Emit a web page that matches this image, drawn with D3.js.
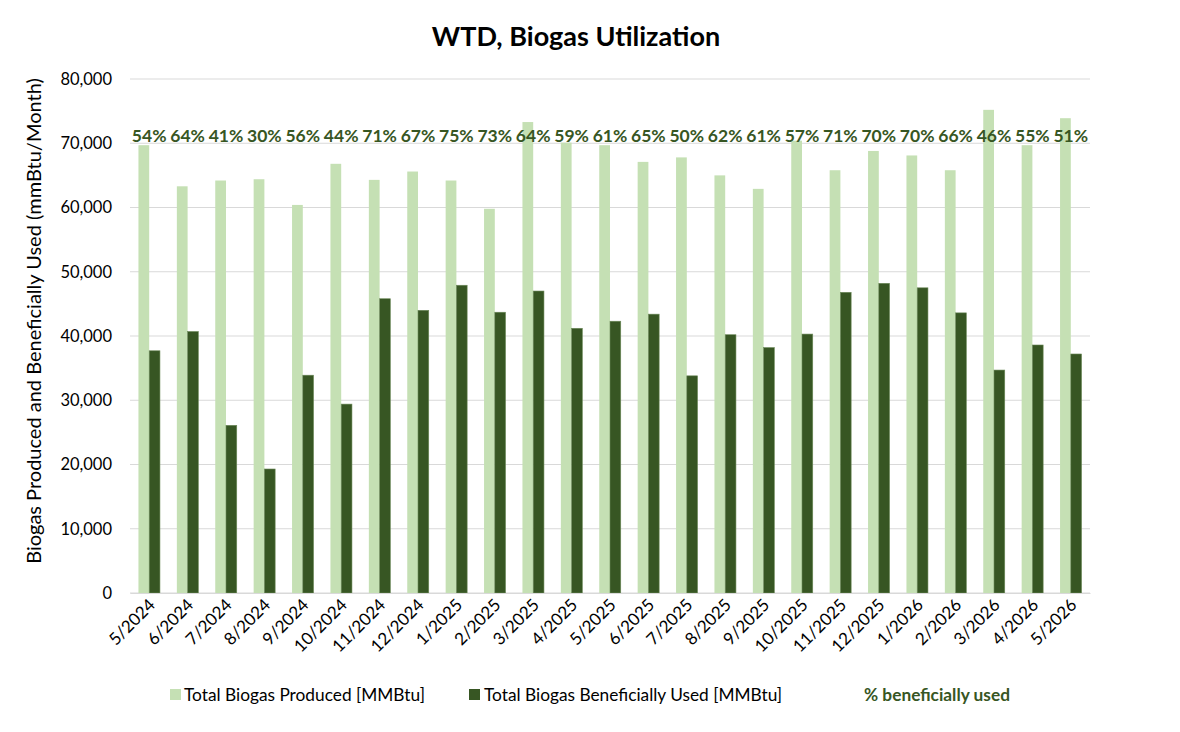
<!DOCTYPE html>
<html>
<head>
<meta charset="utf-8">
<script src="https://cdn.jsdelivr.net/npm/d3@7"></script>
<style>
  body { margin: 0; background: #fff; }
  svg { font-family: Lato, "Open Sans", sans-serif; }
</style>
</head>
<body>
<svg id="chart"></svg>
<script>
const months = ["5/2024", "6/2024", "7/2024", "8/2024", "9/2024", "10/2024", "11/2024", "12/2024",
  "1/2025", "2/2025", "3/2025", "4/2025", "5/2025", "6/2025", "7/2025", "8/2025", "9/2025",
  "10/2025", "11/2025", "12/2025", "1/2026", "2/2026", "3/2026", "4/2026", "5/2026"];
const produced = [69700, 63300, 64200, 64400, 60400, 66800, 64300, 65600, 64200, 59800, 73300, 70100,
  69700, 67100, 67800, 65000, 62900, 70400, 65800, 68800, 68100, 65800, 75200, 69700, 73900];
const used = [37700, 40700, 26100, 19300, 33900, 29400, 45800, 44000, 47900, 43700, 47000, 41200,
  42300, 43400, 33800, 40200, 38200, 40300, 46800, 48200, 47500, 43600, 34700, 38600, 37200];
const pctLabels = ["54%", "64%", "41%", "30%", "56%", "44%", "71%", "67%", "75%", "73%", "64%", "59%",
  "61%", "65%", "50%", "62%", "61%", "57%", "71%", "70%", "70%", "66%", "46%", "55%", "51%"];
const yTicks = [0, 10000, 20000, 30000, 40000, 50000, 60000, 70000, 80000];

const W = 1180, H = 732;
const margin = { top: 79, right: 90, bottom: 139, left: 130 };
const width = W - margin.left - margin.right;
const height = H - margin.top - margin.bottom;

const lightGreen = "#c5e0b4";
const darkGreen = "#375623";

const svg = d3.select("#chart").attr("width", W).attr("height", H);
const g = svg.append("g").attr("transform", `translate(${margin.left},${margin.top})`);

const x = d3.scaleBand().domain(months).range([0, width]).paddingInner(0.44).paddingOuter(0.22);
const xSub = d3.scaleBand().domain(["produced", "used"]).range([0, x.bandwidth()]);
const y = d3.scaleLinear().domain([0, 80000]).range([height, 0]);

// gridlines
g.append("g")
  .selectAll("line")
  .data(yTicks)
  .join("line")
  .attr("x1", 0).attr("x2", width)
  .attr("y1", d => y(d)).attr("y2", d => y(d))
  .attr("stroke", "#d9d9d9").attr("stroke-width", 1);

// y axis labels
const yAxis = g.append("g")
  .call(d3.axisLeft(y).tickValues(yTicks).tickFormat(d3.format(",")).tickSize(0).tickPadding(18));
yAxis.select(".domain").remove();
yAxis.selectAll("text").attr("font-size", 16.5).attr("fill", "#000").style("font-family", "Lato, sans-serif");

const data = months.map((m, i) => ({ month: m, produced: produced[i], used: used[i], pct: pctLabels[i] }));

const groups = g.append("g").selectAll("g")
  .data(data)
  .join("g")
  .attr("transform", d => `translate(${x(d.month)},0)`);

groups.append("rect")
  .attr("x", xSub("produced"))
  .attr("width", xSub.bandwidth())
  .attr("y", d => y(d.produced))
  .attr("height", d => height - y(d.produced))
  .attr("fill", lightGreen);

groups.append("rect")
  .attr("x", xSub("used"))
  .attr("width", xSub.bandwidth())
  .attr("y", d => y(d.used))
  .attr("height", d => height - y(d.used))
  .attr("fill", darkGreen)
  .attr("stroke", "#6d8a5a").attr("stroke-width", 0.6);

// percentage labels
g.append("g").selectAll("text")
  .data(data)
  .join("text")
  .attr("x", d => x(d.month) + x.bandwidth() / 2)
  .attr("y", y(70000) - 1)
  .attr("text-anchor", "middle")
  .attr("font-size", 17.5)
  .attr("font-weight", "bold")
  .attr("fill", darkGreen)
  .text(d => d.pct);

// x axis
const xAxis = g.append("g")
  .attr("transform", `translate(0,${height})`)
  .call(d3.axisBottom(x).tickSize(0).tickPadding(0));
xAxis.select(".domain").attr("stroke", "#d9d9d9");
xAxis.selectAll("text")
  .attr("font-size", 17)
  .attr("fill", "#000")
  .style("font-family", "Lato, sans-serif")
  .attr("text-anchor", "end")
  .attr("dy", null)
  .attr("transform", "translate(7,13) rotate(-45)");

// title
svg.append("text")
  .attr("x", 576).attr("y", 46)
  .attr("text-anchor", "middle")
  .attr("font-size", 27)
  .attr("font-weight", "bold")
  .text("WTD, Biogas Utilization");

// y axis title
svg.append("text")
  .attr("transform", `translate(41,${margin.top + height / 2 - 15}) rotate(-90)`)
  .attr("text-anchor", "middle")
  .attr("font-size", 20)
  .text("Biogas Produced and Beneficially Used (mmBtu/Month)");

// legend
const legend = svg.append("g").attr("transform", "translate(0,701)");
legend.append("rect").attr("x", 170).attr("y", -12).attr("width", 11).attr("height", 11).attr("fill", lightGreen);
legend.append("text").attr("x", 184).attr("y", 0).attr("font-size", 17.3).text("Total Biogas Produced [MMBtu]");
legend.append("rect").attr("x", 469).attr("y", -12).attr("width", 11).attr("height", 11).attr("fill", darkGreen);
legend.append("text").attr("x", 484).attr("y", 0).attr("font-size", 17.3).text("Total Biogas Beneficially Used [MMBtu]");
legend.append("text").attr("x", 864).attr("y", 0).attr("font-size", 17.3).attr("font-weight", "bold")
  .attr("fill", darkGreen).text("% beneficially used");
</script>
</body>
</html>
